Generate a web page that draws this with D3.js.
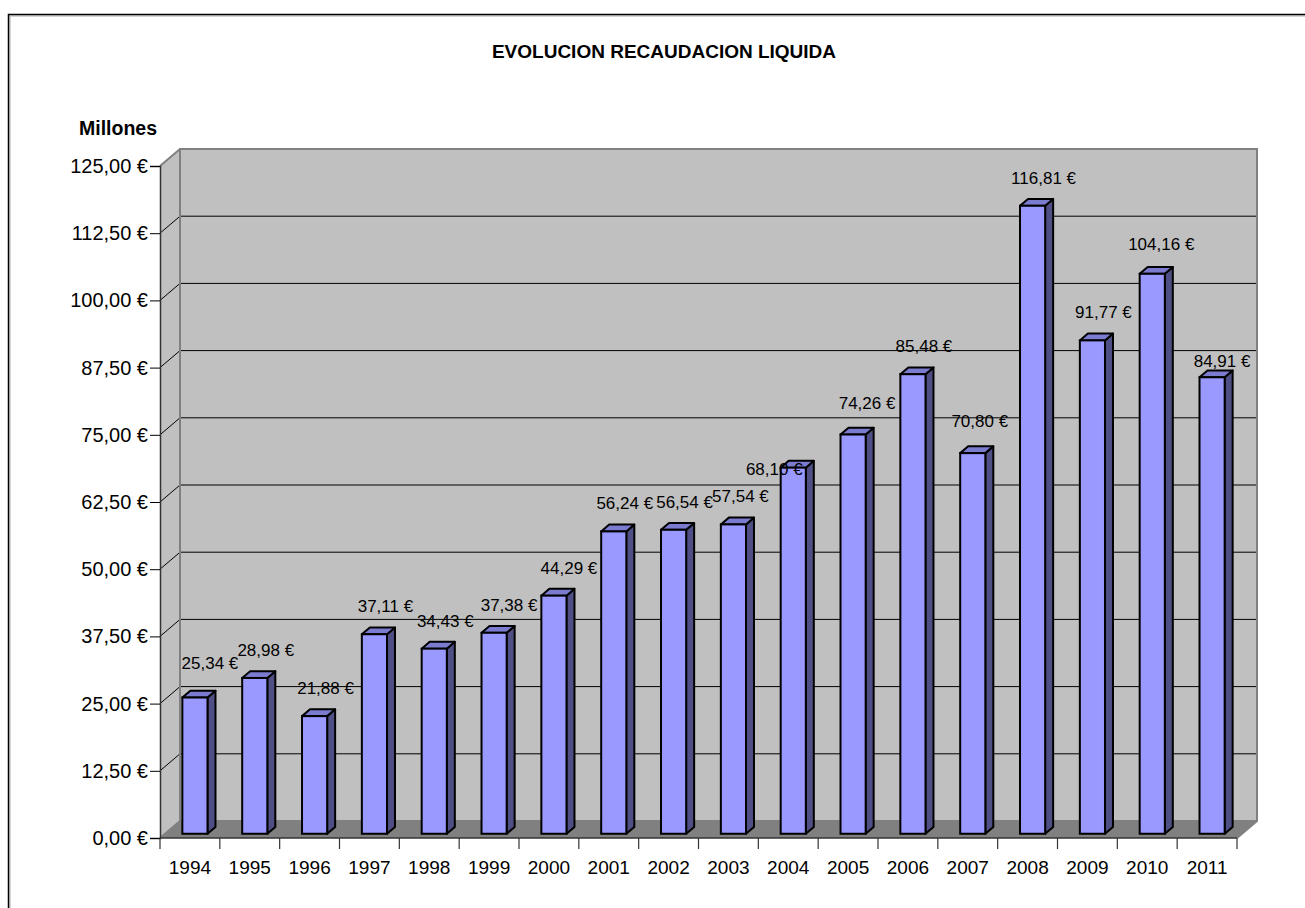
<!DOCTYPE html>
<html>
<head>
<meta charset="utf-8">
<script src="https://cdn.jsdelivr.net/npm/d3@7"></script>
<style>
  body { margin: 0; background: #fff; }
  svg text { font-family: "Liberation Sans", Arial, sans-serif; fill: #000; }
</style>
</head>
<body>
<div id="chart"></div>
<script>
const years = ["1994","1995","1996","1997","1998","1999","2000","2001","2002",
    "2003","2004","2005","2006","2007","2008","2009","2010","2011"];
const recaudacion = [25.34, 28.98, 21.88, 37.11, 34.43, 37.38, 44.29, 56.24, 56.54,
    57.54, 68.10, 74.26, 85.48, 70.80, 116.81, 91.77, 104.16, 84.91];
const yTicks = [0, 12.5, 25, 37.5, 50, 62.5, 75, 87.5, 100, 112.5, 125];

// a few labels were dragged by hand in the original
const labelNudge = {
    "1994": [4, -7],
    "1999": [4, 0],
    "2000": [4, 0],
    "2003": [-4, 0],
    "2004": [-30, 29],
    "2005": [3, -4],
    "2007": [-4, -4],
    "2010": [-2, -2],
    "2011": [-1, 12]
};

const width = 1305;
const height = 908;

// 3D depth of the plot box
const depthX = 20, depthY = 17;
// bar sits from 25% to 65% of the depth
const barFront = 0.25, barBack = 0.65;

const svg = d3.select("#chart")
    .append("svg")
    .attr("width", width)
    .attr("height", height);

const es = d3.formatLocale({decimal: ",", thousands: ".", grouping: [3], currency: ["", " €"]});
const fmt = es.format(",.2f");

// outer border
svg.append("path")
    .attr("d", "M10,910 V16 H1310")
    .attr("fill", "none")
    .attr("stroke", "#c8c8c8")
    .attr("stroke-width", 1.5);
svg.append("path")
    .attr("d", "M8.5,910 V14.5 H1310")
    .attr("fill", "none")
    .attr("stroke", "#000")
    .attr("stroke-width", 1.5);

svg.append("text")
    .attr("x", 664)
    .attr("y", 58)
    .attr("text-anchor", "middle")
    .style("font-size", "19px")
    .style("font-weight", "bold")
    .text("EVOLUCION RECAUDACION LIQUIDA");

svg.append("text")
    .attr("x", 79)
    .attr("y", 135)
    .style("font-size", "19.5px")
    .style("font-weight", "bold")
    .text("Millones");

const x = d3.scaleBand()
    .domain(years)
    .range([160, 1237])
    .paddingInner(0.58)
    .paddingOuter(0.29);

const y = d3.scaleLinear()
    .domain([0, 125])
    .range([838, 166]);

const x0 = 160, x1 = 1237;
const yTop = y(125), yBot = y(0);

// walls
svg.append("polygon")
    .attr("points", [[x0, yTop], [x0 + depthX, yTop - depthY], [x0 + depthX, yBot - depthY], [x0, yBot]].join(" "))
    .attr("fill", "#c0c0c0");
svg.append("polygon")
    .attr("points", [[x0 + depthX, yTop - depthY], [x1 + depthX, yTop - depthY], [x1 + depthX, yBot - depthY], [x0 + depthX, yBot - depthY]].join(" "))
    .attr("fill", "#c0c0c0");
svg.append("polygon")
    .attr("points", [[x0, yBot], [x0 + depthX, yBot - depthY], [x1 + depthX, yBot - depthY], [x1, yBot]].join(" "))
    .attr("fill", "#808080");

// gridlines
const grid = svg.append("g");
yTicks.filter(v => v > 0 && v < 125).forEach(v => {
    grid.append("path")
        .attr("d", `M${x0},${y(v)} L${x0 + depthX},${y(v) - depthY} H${x1 + depthX}`)
        .attr("fill", "none")
        .attr("stroke", "#000")
        .attr("stroke-width", 1);
});

// wall edges
svg.append("path")
    .attr("d", `M${x0},${yTop} L${x0 + depthX},${yTop - depthY} H${x1 + depthX} V${yBot - depthY} L${x1},${yBot}` +
        ` M${x0 + depthX},${yTop - depthY} V${yBot - depthY} H${x1 + depthX} M${x0},${yBot} L${x0 + depthX},${yBot - depthY}`)
    .attr("fill", "none")
    .attr("stroke", "#808080")
    .attr("stroke-width", 2);

// y axis
const yAxis = d3.axisLeft(y)
    .tickValues(yTicks)
    .tickSize(10)
    .tickPadding(2)
    .tickFormat(d => fmt(d) + " €");
const gy = svg.append("g")
    .attr("transform", `translate(${x0},0)`)
    .call(yAxis);
gy.select(".domain").attr("stroke", "#333").attr("stroke-width", 1.5);
gy.selectAll(".tick line").attr("stroke", "#000");
gy.selectAll("text")
    .style("font-size", "20px")
    .attr("font-family", null);

// x axis
const xTicksG = svg.append("g");
xTicksG.append("line")
    .attr("x1", x0).attr("x2", x1)
    .attr("y1", yBot).attr("y2", yBot)
    .attr("stroke", "#333").attr("stroke-width", 1.5);
const step = x.step();
d3.range(years.length + 1).forEach(i => {
    xTicksG.append("line")
        .attr("x1", x0 + i * step).attr("x2", x0 + i * step)
        .attr("y1", yBot).attr("y2", yBot + 11)
        .attr("stroke", "#333").attr("stroke-width", 1.2);
});
xTicksG.selectAll("text.cat")
    .data(years)
    .enter()
    .append("text")
    .attr("class", "cat")
    .attr("x", d => x(d) + x.bandwidth() / 2)
    .attr("y", 874)
    .attr("text-anchor", "middle")
    .style("font-size", "19px")
    .text(d => d);

// bars
const data = years.map((yr, i) => ({year: yr, value: recaudacion[i]}));
const fdx = depthX * barFront, fdy = depthY * barFront;
const bdx = depthX * barBack, bdy = depthY * barBack;
const sx = bdx - fdx, sy = bdy - fdy;

const bars = svg.selectAll("g.bar")
    .data(data)
    .enter()
    .append("g")
    .attr("class", "bar");

bars.each(function(d) {
    const g = d3.select(this);
    const left = x(d.year) + fdx;
    const right = left + x.bandwidth();
    const top = y(d.value) - fdy;
    const bottom = y(0) - fdy;
    // side
    g.append("polygon")
        .attr("points", [[right, top], [right + sx, top - sy], [right + sx, bottom - sy], [right, bottom]].join(" "))
        .attr("fill", "#4f4f85")
        .attr("stroke", "#000")
        .attr("stroke-width", 2)
        .attr("stroke-linejoin", "round");
    // top
    g.append("polygon")
        .attr("points", [[left, top], [left + sx, top - sy], [right + sx, top - sy], [right, top]].join(" "))
        .attr("fill", "#7b7bcf")
        .attr("stroke", "#000")
        .attr("stroke-width", 2)
        .attr("stroke-linejoin", "round");
    // front
    g.append("rect")
        .attr("x", left)
        .attr("y", top)
        .attr("width", x.bandwidth())
        .attr("height", bottom - top)
        .attr("fill", "#9999ff")
        .attr("stroke", "#000")
        .attr("stroke-width", 2);
});

// value labels
svg.selectAll("text.val")
    .data(data)
    .enter()
    .append("text")
    .attr("class", "val")
    .attr("x", d => x(d.year) + fdx + x.bandwidth() / 2 + 11 + (labelNudge[d.year] ? labelNudge[d.year][0] : 0))
    .attr("y", d => y(d.value) - fdy - 22 + (labelNudge[d.year] ? labelNudge[d.year][1] : 0))
    .attr("text-anchor", "middle")
    .style("font-size", "17px")
    .text(d => fmt(d.value) + " €");
</script>
</body>
</html>
